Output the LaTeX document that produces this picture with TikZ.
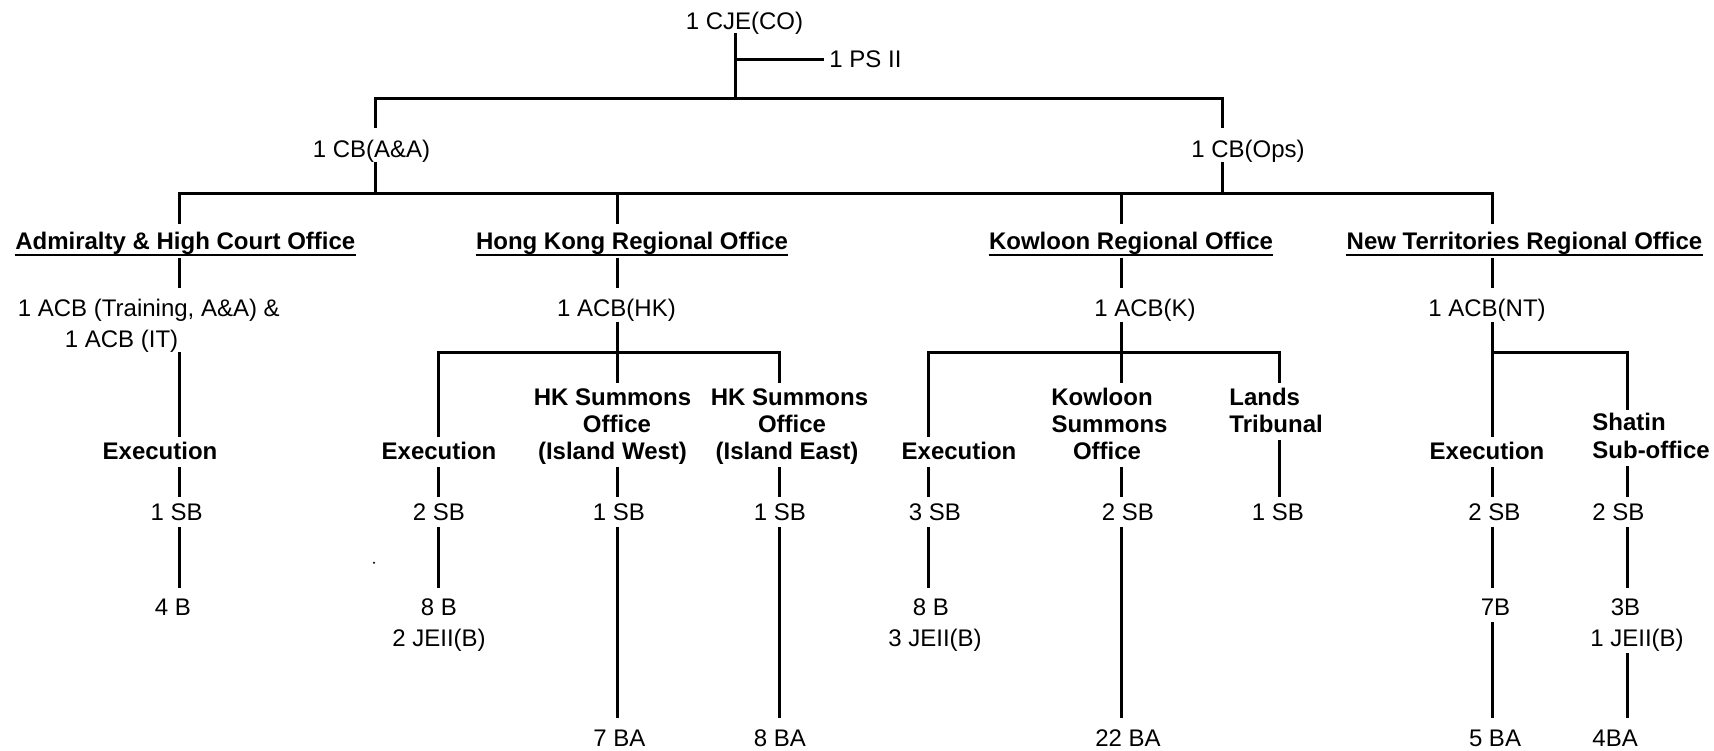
\documentclass[tikz,border=0pt]{standalone}
\usepackage{fontspec}
\setmainfont{Liberation Sans}
\begin{document}
\begin{tikzpicture}[x=0.5pt,y=-0.5pt,
  t/.style={inner sep=0pt, text height=8.6pt, text depth=0pt, font=\fontsize{12}{14}\selectfont},
  tb/.style={t, font=\fontsize{12}{14}\selectfont\bfseries},
  c/.style={anchor=base},
  l/.style={anchor=base west},
  ln/.style={line width=1.5pt},
  ul/.style={line width=1.3pt}]
\fill[white] (0,0) rectangle (1714,750);
\useasboundingbox (0,0) rectangle (1714,750);
% ---- texts ----
\node[t,c] (cje) at (744.5,29.5) {1 CJE(CO)};
\node[t,l] (ps) at (829,67) {1 PS II};
\node[t,c] (cbaa) at (371.5,157) {1 CB(A\&A)};
\node[t,c] (cbops) at (1248,157) {1 CB(Ops)};
\node[tb,c] (tadm) at (185.3,249.5) {Admiralty \& High Court Office};
\node[tb,c] (thk) at (632,249.5) {Hong Kong Regional Office};
\node[tb,c] (tk) at (1131,249.5) {Kowloon Regional Office};
\node[tb,c] (tnt) at (1524.5,249.5) {New Territories Regional Office};
\node[t,c] (acb1) at (148.8,316.5) {1 ACB (Training, A\&A) \&};
\node[t,c] (acb2) at (121.5,347) {1 ACB (IT)};
\node[t,c] (acbhk) at (616.5,316.5) {1 ACB(HK)};
\node[t,c] (acbk) at (1145,316.5) {1 ACB(K)};
\node[t,c] (acbnt) at (1487,316.5) {1 ACB(NT)};
% execution / sections
\node[tb,c] (exadm) at (160,459.5) {Execution};
\node[tb,c] (exhk) at (439,459.5) {Execution};
\node[tb,c] (hkw1) at (612.5,405.5) {HK Summons};
\node[tb,c] (hkw2) at (617,432.5) {Office};
\node[tb,c] (hkw3) at (612.5,459.5) {(Island West)};
\node[tb,c] (hke1) at (789.5,405.5) {HK Summons};
\node[tb,c] (hke2) at (792,432.5) {Office};
\node[tb,c] (hke3) at (787,459.5) {(Island East)};
\node[tb,c] (exk) at (959,459.5) {Execution};
\node[tb,c] (ks1) at (1102,405.5) {Kowloon};
\node[tb,c] (ks2) at (1109.5,432.5) {Summons};
\node[tb,c] (ks3) at (1107,459.5) {Office};
\node[tb,l] (lt1) at (1229,405.5) {Lands};
\node[tb,l] (lt2) at (1229,432.5) {Tribunal};
\node[tb,c] (exnt) at (1487,459.5) {Execution};
\node[tb,l] (sh1) at (1592,430.5) {Shatin};
\node[tb,l] (sh2) at (1592,458.5) {Sub-office};
% SB level
\node[t,c] (sbadm) at (176.7,520) {1 SB};
\node[t,c] (sbhk) at (439,520) {2 SB};
\node[t,c] (sbw) at (619,520) {1 SB};
\node[t,c] (sbe) at (780,520) {1 SB};
\node[t,c] (sbk) at (935,520) {3 SB};
\node[t,c] (sbks) at (1128,520) {2 SB};
\node[t,c] (sblt) at (1278,520) {1 SB};
\node[t,c] (sbnt) at (1494.5,520) {2 SB};
\node[t,l] (sbsh) at (1592,520) {2 SB};
% B level
\node[t,c] (badm) at (173,615) {4 B};
\node[t,c] (bhk) at (439,615) {8 B};
\node[t,c] (bk) at (931,615) {8 B};
\node[t,c] (bnt) at (1495.5,615) {7B};
\node[t,c] (bsh) at (1625.5,615) {3B};
\node[t,c] (jehk) at (439,646) {2 JEII(B)};
\node[t,c] (jek) at (935,646) {3 JEII(B)};
\node[t,c] (jesh) at (1637,646) {1 JEII(B)};
% BA level
\node[t,c] (baw) at (619.5,746) {7 BA};
\node[t,c] (bae) at (780,746) {8 BA};
\node[t,c] (baks) at (1128,746) {22 BA};
\node[t,c] (bant) at (1495,746) {5 BA};
\node[t,l] (bash) at (1592,746) {4BA};
% underlines
\foreach \n in {tadm,thk,tk,tnt}
  \draw[ul] ([yshift=-2.5pt]\n.south west) -- ([yshift=-2.5pt]\n.south east);
% stray dot
\fill (374,562.7) circle (1.1);
% ---- junctions ----
\coordinate (j0) at (735.5,98.3);
\coordinate (jps) at (735.5,59);
\coordinate (j0L) at (375.5,98.3);
\coordinate (j0R) at (1222,98.3);
\coordinate (j1L) at (179,193);
\coordinate (j1a) at (375.5,193);
\coordinate (j1b) at (617.5,193);
\coordinate (j1c) at (1121.5,193);
\coordinate (j1d) at (1222,193);
\coordinate (j1R) at (1492,193);
\coordinate (jhk) at (617.5,352.5);
\coordinate (jhkL) at (438.5,352.5);
\coordinate (jhkR) at (779,352.5);
\coordinate (jk) at (1121.5,352.5);
\coordinate (jkL) at (928.5,352.5);
\coordinate (jkR) at (1279,352.5);
\coordinate (jnt) at (1492,352.5);
\coordinate (jntR) at (1627,352.5);
% ---- connectors ----
\draw[ln, shorten <=1.75pt] (cje.south -| j0) -- (j0);
\draw[ln, shorten >=2.5pt] (jps) -- (jps -| ps.west);
\draw[ln, shorten <=5.65pt, shorten >=5.65pt] (cbaa.north -| j0L) -- (j0L) -- (j0R) -- (cbops.north -| j0R);
\draw[ln, shorten <=2.5pt] (cbaa.south -| j0L) -- (j1a);
\draw[ln, shorten <=2.5pt] (cbops.south -| j0R) -- (j1d);
\draw[ln, shorten <=4.15pt, shorten >=4.15pt] (tadm.north -| j1L) -- (j1L) -- (j1R) -- (tnt.north -| j1R);
\draw[ln, shorten >=4.15pt] (j1b) -- (thk.north -| j1b);
\draw[ln, shorten >=4.15pt] (j1c) -- (tk.north -| j1c);
% titles to ACB
\draw[ln, shorten <=3.9pt, shorten >=5.5pt] (tadm.south -| j1L) -- (acb1.north -| j1L);
\draw[ln, shorten <=3.9pt, shorten >=5.5pt] (thk.south -| j1b) -- (acbhk.north -| j1b);
\draw[ln, shorten <=3.9pt, shorten >=5.5pt] (tk.south -| j1c) -- (acbk.north -| j1c);
\draw[ln, shorten <=3.9pt, shorten >=5.5pt] (tnt.south -| j1R) -- (acbnt.north -| j1R);
% Admiralty
\draw[ln, shorten <=2.5pt, shorten >=2.65pt] (acb2.south -| j1L) -- (exadm.north -| j1L);
% HK
\draw[ln, shorten <=2.75pt] (acbhk.south -| jhk) -- (jhk);
\draw[ln, shorten <=2.65pt, shorten >=2.5pt] (exhk.north -| jhkL) -- (jhkL) -- (jhkR) -- (hke1.north -| jhkR);
\draw[ln, shorten >=2.5pt] (jhk) -- (hkw1.north -| jhk);
% Kowloon
\draw[ln, shorten <=2.75pt] (acbk.south -| jk) -- (jk);
\draw[ln, shorten <=2.65pt, shorten >=2.5pt] (exk.north -| jkL) -- (jkL) -- (jkR) -- (lt1.north -| jkR);
\draw[ln, shorten >=2.5pt] (jk) -- (ks1.north -| jk);
% NT
\draw[ln, shorten <=2.75pt, shorten >=2.65pt] (acbnt.south -| jnt) -- (exnt.north -| jnt);
\draw[ln, shorten >=1.5pt] (jnt) -- (jntR) -- (sh1.north -| jntR);
% sections to SB
\draw[ln, shorten <=3.6pt, shorten >=2.9pt] (exadm.south -| j1L) -- (sbadm.north -| j1L);
\draw[ln, shorten <=3.6pt, shorten >=2.9pt] (exhk.south -| jhkL) -- (sbhk.north -| jhkL);
\draw[ln, shorten <=3.6pt, shorten >=2.9pt] (hkw3.south -| jhk) -- (sbw.north -| jhk);
\draw[ln, shorten <=3.6pt, shorten >=2.9pt] (hke3.south -| jhkR) -- (sbe.north -| jhkR);
\draw[ln, shorten <=3.6pt, shorten >=2.9pt] (exk.south -| jkL) -- (sbk.north -| jkL);
\draw[ln, shorten <=3.6pt, shorten >=2.9pt] (ks3.south -| jk) -- (sbks.north -| jk);
\draw[ln, shorten <=3.75pt, shorten >=2.9pt] (lt2.south -| jkR) -- (sblt.north -| jkR);
\draw[ln, shorten <=3.6pt, shorten >=2.9pt] (exnt.south -| jnt) -- (sbnt.north -| jnt);
\draw[ln, shorten <=3.75pt, shorten >=2.9pt] (sh2.south -| jntR) -- (sbsh.north -| jntR);
% SB to B
\draw[ln, shorten <=3.25pt, shorten >=4.75pt] (sbadm.south -| j1L) -- (badm.north -| j1L);
\draw[ln, shorten <=3.25pt, shorten >=4.75pt] (sbhk.south -| jhkL) -- (bhk.north -| jhkL);
\draw[ln, shorten <=3.25pt, shorten >=4.75pt] (sbk.south -| jkL) -- (bk.north -| jkL);
\draw[ln, shorten <=3.25pt, shorten >=4.75pt] (sbnt.south -| jnt) -- (bnt.north -| jnt);
\draw[ln, shorten <=3.25pt, shorten >=4.75pt] (sbsh.south -| jntR) -- (bsh.north -| jntR);
% SB to BA
\draw[ln, shorten <=3.25pt, shorten >=5.4pt] (sbw.south -| jhk) -- (baw.north -| jhk);
\draw[ln, shorten <=3.25pt, shorten >=5.4pt] (sbe.south -| jhkR) -- (bae.north -| jhkR);
\draw[ln, shorten <=3.25pt, shorten >=5.4pt] (sbks.south -| jk) -- (baks.north -| jk);
\draw[ln, shorten <=3.35pt, shorten >=5.4pt] (bnt.south -| jnt) -- (bant.north -| jnt);
\draw[ln, shorten <=3.5pt, shorten >=5.4pt] (jesh.south -| jntR) -- (bash.north -| jntR);
\end{tikzpicture}
\end{document}
